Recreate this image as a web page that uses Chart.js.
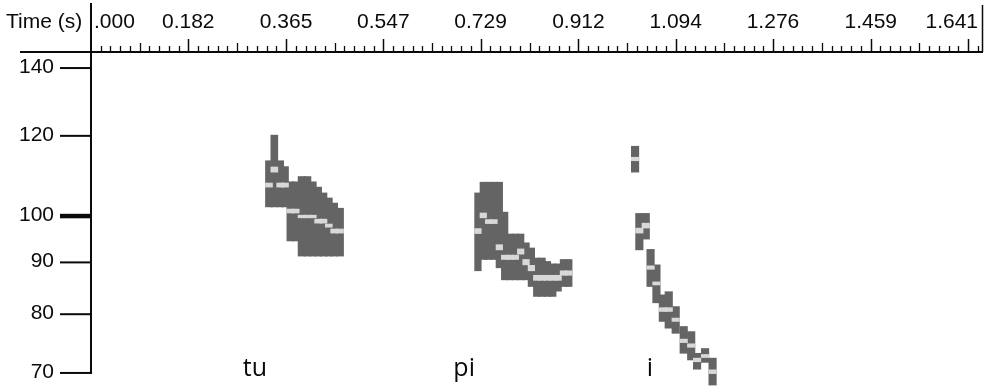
<!DOCTYPE html>
<html><head><meta charset="utf-8">
<script src="https://cdn.jsdelivr.net/npm/chart.js@4"></script>
<style>html,body{margin:0;padding:0;background:#fff;overflow:hidden}</style>
</head><body>
<canvas id="c" width="991" height="387"></canvas>
<script>
// ---- axis labels ----
const timeTickLabels = ['.000','0.182','0.365','0.547','0.729','0.912','1.094','1.276','1.459','1.641'];
const pitchTicks = [70, 80, 90, 100, 120, 140];
const syllables = ['tu', 'pi', 'i'];
const syllableTimes = [0.284, 0.678, 1.040];

// ---- "tu" pitch candidates (time s, low Hz, high Hz) ----
const tuTimes = [0.333,0.343,0.354,0.363,0.373,0.383,0.394,0.405,0.415,0.425,0.435,0.445,0.455,0.466];
const tuLow   = [102.1,102.1,102.1,102.1,94.5,94.5,91.3,91.3,91.3,91.3,91.3,91.3,91.3,91.3];
const tuHigh  = [113.4,120.2,113.4,111.9,108.1,108.1,109.4,109.4,108.1,106.8,105.4,104.2,103.0,101.8];
const tuPeakLow  = [106.8,110.5,106.8,106.8,100.7,100.7,99.6,99.6,99.6,98.4,98.4,97.5,96.2,96.2];
const tuPeakHigh = [107.8,111.8,107.8,107.8,101.6,101.6,100.2,100.2,100.2,99.3,99.3,98.2,97.1,97.1];

// ---- "pi" ----
const piTimes = [0.724,0.734,0.744,0.754,0.764,0.774,0.784,0.794,0.804,0.814,0.824,0.834,0.844,0.854,0.864,0.874,0.884,0.894];
const piLow   = [88.3,90.6,90.6,90.6,88.9,86.5,86.5,86.5,86.5,86.5,85.2,83.3,83.3,83.3,83.3,84.3,85.2,85.2];
const piHigh  = [105.4,108.0,108.0,108.0,108.0,100.9,96.0,96.0,96.0,94.1,93.0,90.9,90.9,90.2,89.7,89.7,90.6,90.6];
const piPeakLow  = [96.1,99.6,98.3,98.3,92.6,90.6,90.6,90.6,91.7,89.5,88.3,86.4,86.4,86.4,86.4,86.4,87.4,87.4];
const piPeakHigh = [97.2,100.7,99.2,99.2,93.7,91.5,91.5,91.5,92.8,90.6,89.4,87.4,87.4,87.4,87.4,87.4,88.3,88.3];

// ---- "i" ----
const iTimes = [1.018,1.026,1.038,1.047,1.058,1.070,1.081,1.094,1.109,1.123,1.134,1.149,1.163];
const iLow   = [110.5,92.6,94.9,85.2,82.1,78.7,77.5,76.6,73.2,72.1,70.6,71.7,68.1];
const iHigh  = [117.2,100.6,100.6,92.7,89.5,83.6,84.2,81.4,77.8,76.9,73.2,74.0,72.4];
const iPeakLow  = [113.4,96.2,97.3,88.6,85.5,80.5,80.5,78.7,75.0,74.2,71.8,72.5,69.9];
const iPeakHigh = [114.3,97.3,98.4,89.3,86.1,81.2,81.2,79.3,75.6,74.8,72.4,73.0,70.5];

const DARK = 'rgb(100,100,100)';
const LIGHT = 'rgb(216,216,216)';

function floatBars(times, lo, hi) {
  return times.map((t, i) => ({ x: t, y: [lo[i], hi[i]] }));
}

function ds(times, lo, hi, color, thick, order) {
  return { type: 'bar', data: floatBars(times, lo, hi), backgroundColor: color,
           borderWidth: 0, barThickness: thick, grouped: false, order: order };
}

const axesPlugin = {
  id: 'axesPlugin',
  afterDraw(chart) {
    const ctx = chart.ctx, xs = chart.scales.x, ys = chart.scales.y, a = chart.chartArea;
    const ink = '#0a0a0a';
    ctx.save();
    ctx.strokeStyle = ink; ctx.fillStyle = ink;
    const line = (x1, y1, x2, y2, w) => { ctx.lineWidth = w; ctx.beginPath(); ctx.moveTo(x1, y1); ctx.lineTo(x2, y2); ctx.stroke(); };
    const x0 = Math.round(xs.getPixelForValue(0));
    const yTop = Math.round(a.top);
    const yBottomTick = ys.getPixelForValue(pitchTicks[0]);
    // frame lines
    line(x0, 3, x0, yBottomTick + 1, 2);
    line(20, yTop, a.right, yTop, 2);
    line(a.right - 0.5, 5, a.right - 0.5, yTop, 1.5);

    // time ticks
    const majors = timeTickLabels.map(s => parseFloat(s));
    let step = (majors[1] - majors[0]) / 10;
    majors.forEach((m, i) => {
      const px = Math.round(xs.getPixelForValue(m)) + 0.5;
      if (i > 0) line(px, yTop, px, yTop - 13, 1.5);
      if (i < majors.length - 1) step = (majors[i + 1] - m) / 10;
      for (let k = 1; k < 10; k++) {
        const v = m + k * step;
        if (v > xs.max) break;
        const p = Math.round(xs.getPixelForValue(v)) + 0.5;
        line(p, yTop, p, yTop - (k === 5 ? 9 : 6), 1.3);
      }
    });
    // time labels
    ctx.font = '21px "Liberation Sans", Arial, sans-serif';
    ctx.textBaseline = 'alphabetic';
    ctx.textAlign = 'left';
    ctx.fillText('Time (s)', 6, 28);
    majors.forEach((m, i) => {
      const px = xs.getPixelForValue(m);
      if (i === 0) { ctx.textAlign = 'left'; ctx.fillText(timeTickLabels[i], px + 3, 28); }
      else if (i === majors.length - 1) { ctx.textAlign = 'right'; ctx.fillText(timeTickLabels[i], a.right - 5, 28); }
      else { ctx.textAlign = 'center'; ctx.fillText(timeTickLabels[i], px, 28); }
    });

    // pitch ticks
    ctx.textAlign = 'right';
    ctx.textBaseline = 'middle';
    pitchTicks.forEach(v => {
      const py = ys.getPixelForValue(v);
      line(60, py, x0, py, v === 100 ? 4.5 : 2);
      ctx.fillText(String(v), 54, py - 1);
    });

    // syllable labels
    ctx.font = '25px "Open Sans", "Liberation Sans", sans-serif';
    ctx.textAlign = 'left';
    ctx.textBaseline = 'alphabetic';
    syllables.forEach((s, i) => {
      ctx.fillText(s, xs.getPixelForValue(syllableTimes[i]), ys.getPixelForValue(69.5));
    });
    ctx.restore();
  }
};

new Chart(document.getElementById('c'), {
  type: 'bar',
  data: {
    datasets: [
      ds(tuTimes, tuPeakLow, tuPeakHigh, LIGHT, 7, 0),
      ds(piTimes, piPeakLow, piPeakHigh, LIGHT, 6.6, 0),
      ds(iTimes, iPeakLow, iPeakHigh, LIGHT, 7.5, 0),
      ds(tuTimes, tuLow, tuHigh, DARK, 7, 1),
      ds(piTimes, piLow, piHigh, DARK, 6.6, 1),
      ds(iTimes, iLow, iHigh, DARK, 7.5, 1)
    ]
  },
  options: {
    responsive: false,
    animation: false,
    devicePixelRatio: 1,
    layout: { padding: { left: 91, right: 8, top: 52, bottom: 0 } },
    plugins: { legend: { display: false }, tooltip: { enabled: false }, title: { display: false } },
    scales: {
      x: { type: 'linear', display: false, min: 0, max: 1.669, offset: false },
      y: { type: 'logarithmic', display: false, min: 67.8, max: 145.2 }
    }
  },
  plugins: [axesPlugin]
});
</script>
</body></html>
